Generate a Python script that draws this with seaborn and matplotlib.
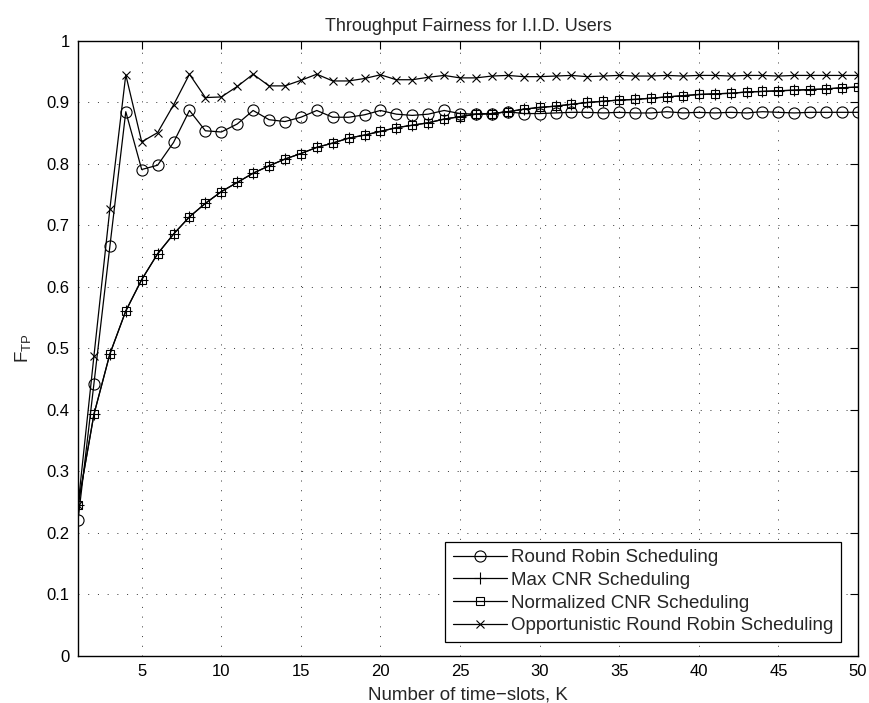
import numpy as np
import pandas as pd
import matplotlib
matplotlib.use("Agg")
import matplotlib.pyplot as plt
import seaborn as sns

K = list(range(1, 51))

round_robin = [0.221, 0.443, 0.666, 0.885, 0.791, 0.798, 0.835, 0.887, 0.854, 0.852,
               0.865, 0.887, 0.872, 0.869, 0.876, 0.887, 0.876, 0.876, 0.880, 0.887,
               0.881, 0.879, 0.881, 0.887, 0.882, 0.881, 0.882, 0.885, 0.882, 0.882,
               0.883, 0.884, 0.884, 0.883, 0.884, 0.883, 0.883, 0.885, 0.883, 0.884,
               0.883, 0.884, 0.883, 0.885, 0.884, 0.883, 0.884, 0.884, 0.884, 0.884]

normalized_cnr = [0.245, 0.393, 0.491, 0.561, 0.612, 0.654, 0.686, 0.714, 0.736, 0.755,
                  0.770, 0.785, 0.797, 0.808, 0.817, 0.827, 0.834, 0.842, 0.847, 0.853,
                  0.859, 0.863, 0.867, 0.873, 0.877, 0.881, 0.882, 0.885, 0.889, 0.892,
                  0.894, 0.897, 0.900, 0.902, 0.904, 0.905, 0.907, 0.909, 0.911, 0.913,
                  0.914, 0.915, 0.917, 0.918, 0.919, 0.920, 0.921, 0.922, 0.924, 0.925]

max_cnr = list(normalized_cnr)

opportunistic_rr = [0.245, 0.488, 0.727, 0.945, 0.836, 0.851, 0.896, 0.946, 0.908, 0.909,
                    0.926, 0.946, 0.927, 0.927, 0.936, 0.946, 0.935, 0.935, 0.939, 0.945,
                    0.937, 0.937, 0.941, 0.944, 0.940, 0.940, 0.943, 0.944, 0.942, 0.942,
                    0.943, 0.944, 0.942, 0.943, 0.944, 0.943, 0.943, 0.944, 0.943, 0.944,
                    0.944, 0.943, 0.944, 0.944, 0.943, 0.944, 0.944, 0.944, 0.944, 0.944]

labels = ["Round Robin Scheduling", "Max CNR Scheduling",
          "Normalized CNR Scheduling", "Opportunistic Round Robin Scheduling"]

sns.set_style("white")
plt.rcParams['font.family'] = ['Liberation Sans', 'DejaVu Sans']
plt.rcParams['mathtext.fontset'] = 'custom'
plt.rcParams['mathtext.rm'] = 'Liberation Sans'

fig = plt.figure(figsize=(8.69, 7.03), dpi=100)
ax = fig.add_axes([0.0898, 0.0669, 0.8975, 0.8748])

styles = [
    (round_robin, 'o', 8),
    (max_cnr, '+', 8),
    (normalized_cnr, 's', 6),
    (opportunistic_rr, 'x', 6),
]
for (vals, mk, ms), lab in zip(styles, labels):
    df = pd.DataFrame({"K": K, "F": vals})
    sns.lineplot(data=df, x="K", y="F", ax=ax, color='k', linewidth=0.9,
                 marker=mk, markersize=ms, markerfacecolor='none',
                 markeredgecolor='k', markeredgewidth=0.8, label=lab)

ax.set_xlim(1, 50)
ax.set_ylim(0, 1)
ax.set_xticks([5, 10, 15, 20, 25, 30, 35, 40, 45, 50])
yt = [0, 0.1, 0.2, 0.3, 0.4, 0.5, 0.6, 0.7, 0.8, 0.9, 1]
ax.set_yticks(yt)
ax.set_yticklabels(["0", "0.1", "0.2", "0.3", "0.4", "0.5", "0.6", "0.7", "0.8", "0.9", "1"])
ax.tick_params(direction='in', top=True, right=True, length=6, width=0.8,
               labelsize=12, colors='k', pad=6)
for s in ax.spines.values():
    s.set_color('k')
    s.set_linewidth(1.0)
ax.grid(True, linestyle=(0, (1, 9)), color='#333333', linewidth=0.7)

ax.set_title("Throughput Fairness for I.I.D. Users", fontsize=13, pad=7.5)
ax.set_xlabel("Number of time\u2212slots, K", fontsize=13.5, labelpad=5)
ax.set_ylabel(r"F$_{\mathrm{TP}}$", fontsize=13.5, labelpad=9)

leg = ax.legend(loc='lower right', bbox_to_anchor=(0.978, 0.0228), fontsize=13.5,
                frameon=True, fancybox=False, edgecolor='k', framealpha=1,
                borderaxespad=0, handlelength=2.9, labelspacing=0.3,
                borderpad=0.4, handletextpad=0.2)
leg.get_frame().set_linewidth(0.9)

fig.savefig("out.png", dpi=100)
